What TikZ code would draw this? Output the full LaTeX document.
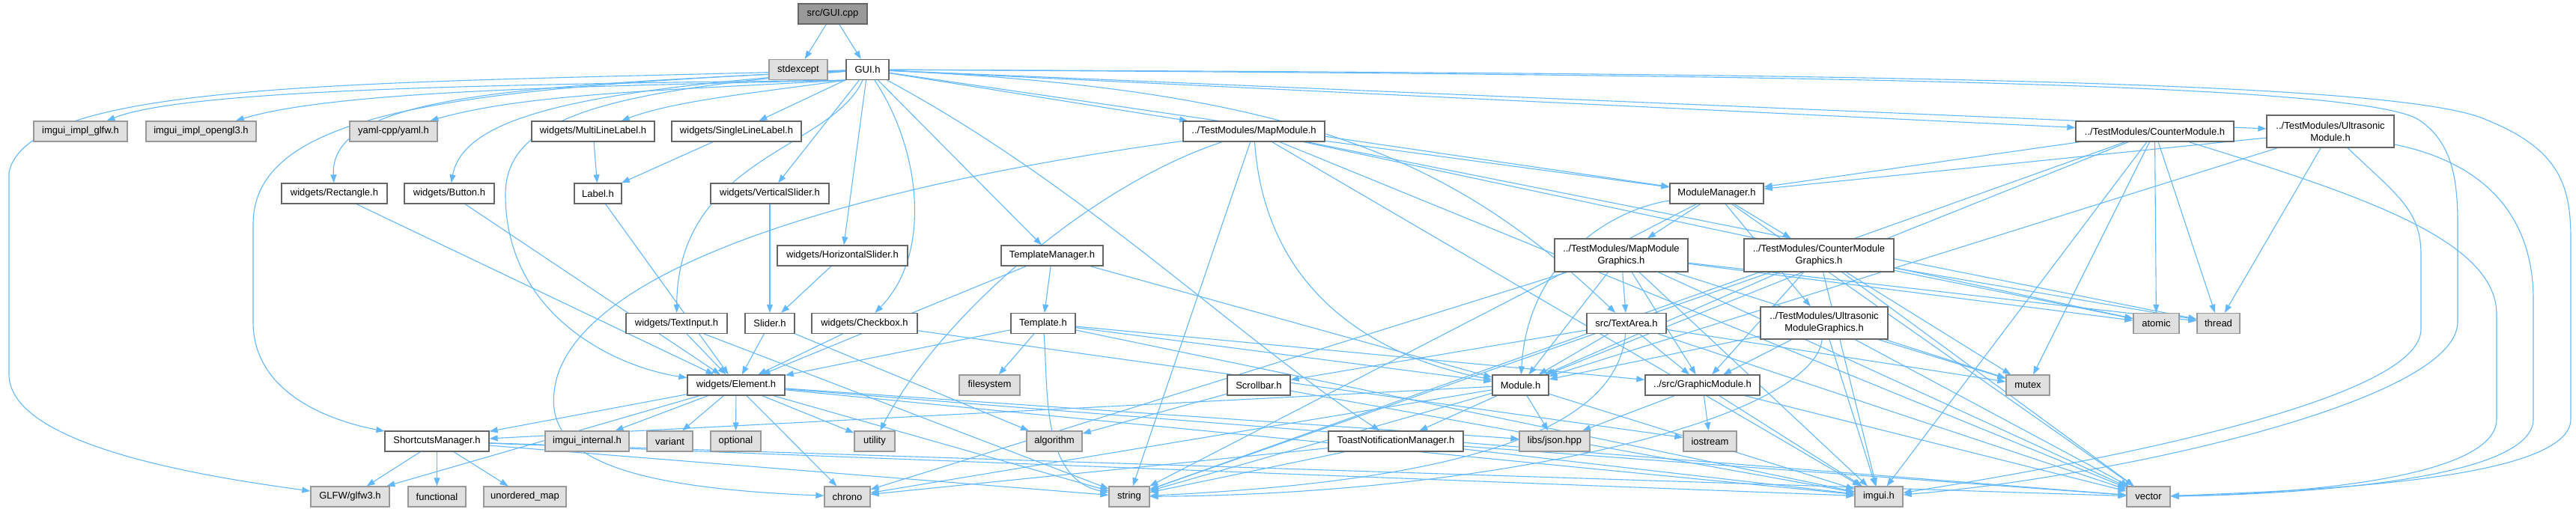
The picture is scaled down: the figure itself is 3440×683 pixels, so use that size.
\documentclass[tikz,border=0pt]{standalone}
\usepackage{fontspec}
\setmainfont{Liberation Sans}
\usetikzlibrary{arrows.meta}
\definecolor{edgec}{HTML}{63B8FF}
\definecolor{bdr}{HTML}{666666}
\definecolor{gbdr}{HTML}{999999}
\definecolor{gfill}{HTML}{E0E0E0}
\definecolor{rootfill}{HTML}{999999}
\pgfdeclarelayer{bg}
\pgfsetlayers{bg,main}
\newcommand{\fan}[2]{\foreach \tg in {#2}{\draw[lnk] (#1) -- (\tg);}}
\begin{document}
\begin{tikzpicture}[x=1pt,y=-1pt,
  box/.style={draw=bdr, fill=white, line width=1.3pt, minimum height=27pt, inner sep=0pt, font=\fontsize{13}{16}\selectfont, align=center},
  sys/.style={box, draw=gbdr, fill=gfill},
  root/.style={box, fill=rootfill},
  lnk/.style={draw=edgec, line width=1.1pt, -{Triangle[length=11pt,width=8pt]}},
]
\useasboundingbox (0,0) rectangle (3440,683);
% nodes
\node[root, minimum width=92pt] (gcpp) at (1112,18.5) {src/GUI.cpp};
\node[sys, minimum width=78pt] (stdexc) at (1066,93) {stdexcept};
\node[box, minimum width=57pt] (guih) at (1158.5,93) {GUI.h};
\node[sys, minimum width=125pt] (iglfw) at (107.5,175.5) {imgui\_impl\_glfw.h};
\node[sys, minimum width=147pt] (iogl) at (268.5,175.5) {imgui\_impl\_opengl3.h};
\node[sys, minimum width=117pt] (yaml) at (525.5,175.5) {yaml-cpp/yaml.h};
\node[box, minimum width=164pt] (mll) at (792,175.5) {widgets/MultiLineLabel.h};
\node[box, minimum width=173pt] (sll) at (983.5,175.5) {widgets/SingleLineLabel.h};
\node[box, minimum width=189pt] (mapm) at (1674.5,175.5) {../TestModules/MapModule.h};
\node[box, minimum width=211pt] (cntm) at (2877.5,175.5) {../TestModules/CounterModule.h};
\node[box, minimum width=170pt, minimum height=43pt] (ultm) at (3112,175.5) {../TestModules/Ultrasonic\\Module.h};
\node[box, minimum width=141pt] (rect) at (446.5,258.5) {widgets/Rectangle.h};
\node[box, minimum width=120pt] (btn) at (600,258.5) {widgets/Button.h};
\node[box, minimum width=63pt] (label) at (798.5,258.5) {Label.h};
\node[box, minimum width=158pt] (vsl) at (1028,258.5) {widgets/VerticalSlider.h};
\node[box, minimum width=125pt] (mmgr) at (2292.5,258.5) {ModuleManager.h};
\node[box, minimum width=174pt] (hsl) at (1125,341.5) {widgets/HorizontalSlider.h};
\node[box, minimum width=136pt] (tmgr) at (1405,341.5) {TemplateManager.h};
\node[box, minimum width=178pt, minimum height=44pt] (mapg) at (2165,341) {../TestModules/MapModule\\Graphics.h};
\node[box, minimum width=200pt, minimum height=44pt] (cntg) at (2429,341) {../TestModules/CounterModule\\Graphics.h};
\node[box, minimum width=135pt] (tinp) at (903.5,432) {widgets/TextInput.h};
\node[box, minimum width=66pt] (slider) at (1028,432) {Slider.h};
\node[box, minimum width=141pt] (chk) at (1154.5,432) {widgets/Checkbox.h};
\node[box, minimum width=86pt] (tmpl) at (1393,432) {Template.h};
\node[box, minimum width=106pt] (tarea) at (2172,432) {src/TextArea.h};
\node[box, minimum width=170pt, minimum height=43pt] (ultg) at (2436,431.5) {../TestModules/Ultrasonic\\ModuleGraphics.h};
\node[sys, minimum width=61pt] (atomic) at (2879.5,432) {atomic};
\node[sys, minimum width=57pt] (thread) at (2962.5,432) {thread};
\node[box, minimum width=130pt] (elem) at (983,514.5) {widgets/Element.h};
\node[sys, minimum width=81pt] (fsys) at (1321.5,514.5) {filesystem};
\node[box, minimum width=84pt] (sbar) at (1681,514.5) {Scrollbar.h};
\node[box, minimum width=75pt] (modh) at (2030.5,514.5) {Module.h};
\node[box, minimum width=153pt] (gmod) at (2273.5,514.5) {../src/GraphicModule.h};
\node[sys, minimum width=58pt] (mutex) at (2708,514.5) {mutex};
\node[box, minimum width=139pt] (scm) at (583.5,589.5) {ShortcutsManager.h};
\node[sys, minimum width=112pt] (imint) at (784,589.5) {imgui\_internal.h};
\node[sys, minimum width=61pt] (variant) at (894.5,589.5) {variant};
\node[sys, minimum width=67pt] (optional) at (982.5,589.5) {optional};
\node[sys, minimum width=54pt] (utility) at (1168,589.5) {utility};
\node[sys, minimum width=74pt] (algo) at (1408,589.5) {algorithm};
\node[box, minimum width=180pt] (toast) at (1864,589.5) {ToastNotificationManager.h};
\node[sys, minimum width=94pt] (json) at (2076,589.5) {libs/json.hpp};
\node[sys, minimum width=71pt] (iostr) at (2283.5,589.5) {iostream};
\node[sys, minimum width=105pt] (glfw) at (467.5,663.5) {GLFW/glfw3.h};
\node[sys, minimum width=77pt] (func) at (583.5,663.5) {functional};
\node[sys, minimum width=110pt] (umap) at (701,663.5) {unordered\_map};
\node[sys, minimum width=61pt] (chrono) at (1131.5,663.5) {chrono};
\node[sys, minimum width=54pt] (string) at (1508,663.5) {string};
\node[sys, minimum width=64pt] (imguih) at (2509,663.5) {imgui.h};
\node[sys, minimum width=58pt] (vector) at (2869,663.5) {vector};
% edges
\begin{pgfonlayer}{bg}
\fan{gcpp}{stdexc,guih}
\draw[lnk] (guih.south west) .. controls (700,112) and (250,118) .. (iglfw);
\draw[lnk] (guih.south west) .. controls (800,115) and (450,120) .. (iogl);
\draw[lnk] (guih.south west) .. controls (900,120) and (700,125) .. (yaml);
\draw[lnk] (guih.south west) .. controls (1000,125) and (900,135) .. (mll);
\draw[lnk] (guih) .. controls (500,112) and (40,105) .. (12,230) -- (12,500) .. controls (12,600) and (300,640) .. (glfw);
\draw[lnk] (guih) .. controls (600,118) and (338,150) .. (338,300) -- (338,430) .. controls (338,520) and (430,560) .. (scm);
\draw[lnk] (guih) .. controls (700,115) and (440,125) .. (rect);
\draw[lnk] (guih) .. controls (800,120) and (620,150) .. (btn);
\draw[lnk] (guih) .. controls (800,122) and (675,160) .. (675,260) .. controls (675,420) and (820,490) .. (elem);
\draw[lnk] (guih) .. controls (1110,200) and (905,210) .. (tinp);
\draw[lnk] (guih) .. controls (1230,200) and (1245,340) .. (chk);
\draw[lnk] (guih) .. controls (1450,250) and (1650,450) .. (toast);
\draw[lnk] (guih) .. controls (1750,120) and (1950,220) .. (tarea);
\draw[lnk] (guih) .. controls (2400,100) and (3150,110) .. (3230,160) .. controls (3275,190) and (3282,240) .. (3282,300) -- (3282,430) .. controls (3282,540) and (2800,640) .. (imguih);
\draw[lnk] (guih) .. controls (2400,98) and (3200,105) .. (3320,160) .. controls (3420,200) and (3433,250) .. (3433,320) -- (3433,560) .. controls (3433,640) and (3100,655) .. (vector);
\draw[lnk] (ultm) .. controls (3200,260) and (3233,280) .. (3233,340) -- (3233,440) .. controls (3233,540) and (2750,625) .. (imguih);
\draw[lnk] (ultm) .. controls (3330,220) and (3383,300) .. (3383,400) -- (3383,560) .. controls (3383,640) and (3080,660) .. (vector);
\draw[lnk] (cntm) .. controls (3150,260) and (3334,320) .. (3334,420) -- (3334,560) .. controls (3334,640) and (3060,660) .. (vector);
\fan{guih}{sll,vsl,hsl,tmgr,mapm,mmgr,cntm,ultm}
\fan{mll}{label}
\fan{sll}{label}
\fan{rect}{elem}
\fan{btn}{elem}
\fan{label}{elem}
\fan{vsl}{slider}
\fan{hsl}{slider}
\fan{tinp}{elem,string}
\fan{slider}{elem,algo}
\fan{chk}{elem,iostr}
\fan{tmgr}{tmpl,elem,modh}
\fan{tmpl}{elem,fsys,gmod,modh,imguih}
\draw[lnk] (tmpl) .. controls (1400,520) and (1390,640) .. (string);
\draw[lnk] (mapm) .. controls (1200,240) and (800,340) .. (745,500) .. controls (715,600) and (800,650) .. (chrono);
\draw[lnk] (mapm) .. controls (1450,250) and (1250,430) .. (utility);
\draw[lnk] (mapm) .. controls (1690,400) and (1850,480) .. (modh);
\fan{mapm}{string,imguih,mmgr,atomic,thread,vector}
\fan{cntm}{mmgr,modh,string,atomic,thread,mutex,imguih}
\fan{ultm}{mmgr,modh,thread}
\draw[lnk] (mmgr) .. controls (2150,280) and (2040,350) .. (modh);
\fan{mmgr}{mapg,cntg,ultg,vector,string}
\fan{mapg}{tarea,modh,gmod,mutex,atomic,thread,vector,imguih,chrono}
\fan{cntg}{modh,gmod,atomic,thread,mutex,vector,imguih,string}
\fan{ultg}{modh,gmod,mutex,imguih,vector}
\draw[lnk] (ultg) .. controls (2420,560) and (2000,660) .. (string);
\fan{tarea}{sbar,modh,gmod,mutex,vector}
\draw[lnk] (tarea) .. controls (2160,560) and (2000,640) .. (string);
\fan{sbar}{algo,imguih}
\fan{modh}{scm,toast,json,imguih,string,chrono}
\fan{gmod}{json,iostr,imguih,vector}
\fan{elem}{scm,glfw,imint,variant,optional,utility,string,chrono,json,vector,imguih}
\fan{scm}{glfw,func,umap,string,vector,imguih}
\fan{toast}{chrono,string,imguih,vector}
\end{pgfonlayer}
\end{tikzpicture}
\end{document}
